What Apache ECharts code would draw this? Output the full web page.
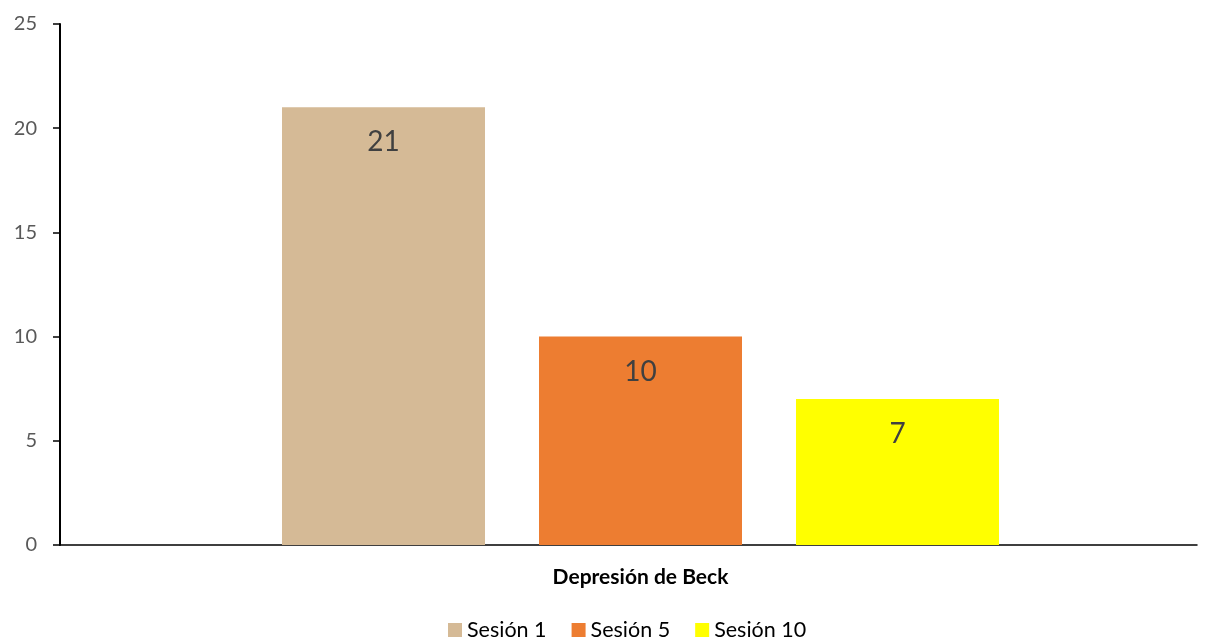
<!DOCTYPE html>
<html>
<head>
<meta charset="utf-8">
<script src="https://cdn.jsdelivr.net/npm/echarts@6/dist/echarts.min.js"></script>
<style>html,body{margin:0;padding:0;background:#fff;}#c{width:1209px;height:639px;}</style>
</head>
<body>
<div id="c"></div>
<script>
const categories = ['Depresión de Beck'];
const seriesNames = ['Sesión 1', 'Sesión 5', 'Sesión 10'];
const sesion1 = [21];
const sesion5 = [10];
const sesion10 = [7];
const colors = ['#D5BA96', '#ED7D31', '#FFFF00'];
const yTicks = { min: 0, max: 25, interval: 5 };

const font = 'Lato, "Open Sans", sans-serif';
const dataSets = [sesion1, sesion5, sesion10];
const chart = echarts.init(document.getElementById('c'));
chart.setOption({
  animation: false,
  textStyle: { fontFamily: font },
  grid: [
    { left: 84, right: 12, top: 24, bottom: 94, containLabel: false },
    { left: 60, right: 12, top: 24, bottom: 94, containLabel: false }
  ],
  legend: {
    top: 614, left: 443, itemWidth: 14, itemHeight: 14, itemGap: 25,
    icon: 'rect',
    textStyle: { color: '#000', fontSize: 21.5, fontFamily: font },
    data: seriesNames
  },
  xAxis: [{
    type: 'category', data: categories, gridIndex: 0,
    axisLine: { show: false },
    axisTick: { show: false }, axisLabel: { show: false },
    name: categories[0], nameLocation: 'middle', nameGap: 22,
    nameTextStyle: { color: '#000', fontSize: 21, fontWeight: 'bold', fontFamily: font }
  }, {
    type: 'value', gridIndex: 1, min: 0, max: 1,
    axisLine: { show: true, onZero: false, lineStyle: { color: '#000', width: 1.5 } },
    axisTick: { show: false }, axisLabel: { show: false }, splitLine: { show: false }
  }],
  yAxis: [{
    type: 'value', gridIndex: 0, min: yTicks.min, max: yTicks.max, interval: yTicks.interval,
    offset: 24,
    axisLine: { show: true, lineStyle: { color: '#000', width: 2 } },
    axisTick: { show: true, length: 7, lineStyle: { color: '#000', width: 1.5 } },
    splitLine: { show: false },
    axisLabel: { color: '#595959', fontSize: 20, margin: 23, fontFamily: font }
  }, {
    type: 'value', gridIndex: 1, min: 0, max: 1, show: false
  }],
  series: seriesNames.map((n, i) => ({
    name: n, type: 'bar', data: dataSets[i], xAxisIndex: 0, yAxisIndex: 0,
    barWidth: 203, barGap: '26.6%',
    itemStyle: { color: colors[i] },
    label: { show: true, position: 'insideTop', distance: 21, color: '#404040', fontSize: 28, fontFamily: font }
  }))
});
</script>
</body>
</html>
